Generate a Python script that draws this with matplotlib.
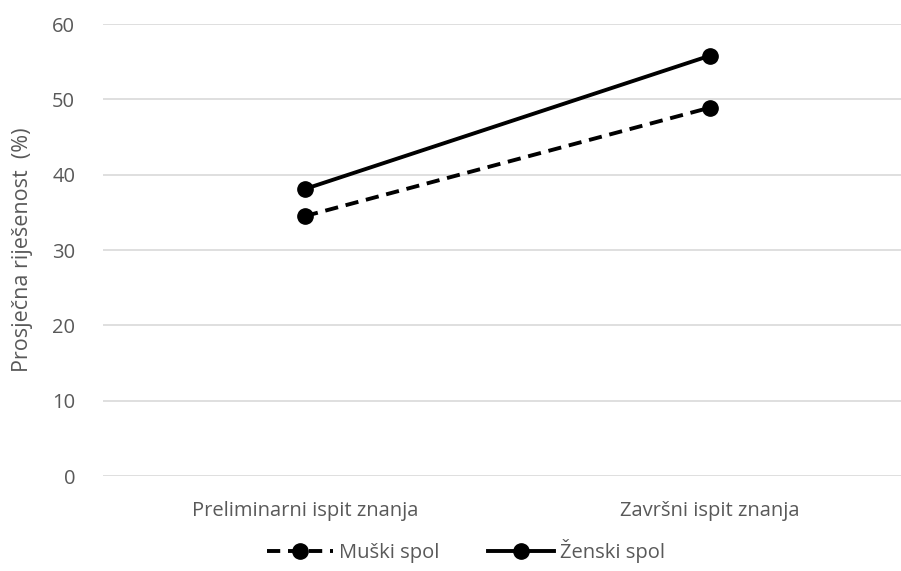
import matplotlib
matplotlib.use("Agg")
import matplotlib.pyplot as plt

categories = ["Preliminarni ispit znanja", "Završni ispit znanja"]
muski = [34.5, 48.9]
zenski = [38.1, 55.8]
series_names = ["Muški spol", "Ženski spol"]
yticks = [0, 10, 20, 30, 40, 50, 60]

plt.rcParams['font.family'] = ['Open Sans', 'DejaVu Sans']
txt = '#595959'

fig = plt.figure(figsize=(9.01, 5.71), dpi=100)
ax = fig.add_axes([103/901, 95/571, 1 - 103/901, (476-24)/571])

x = list(range(len(categories)))
ax.plot(x, muski, color='black', lw=2.8, linestyle=(0, (3.4, 2.0)), marker='o', ms=11,
        label=series_names[0], dash_capstyle='butt')
ax.plot(x, zenski, color='black', lw=2.8, linestyle='-', marker='o', ms=11,
        label=series_names[1])

ax.set_xlim(-0.4988, 1.4716)
ax.set_ylim(0, 60)
ax.set_yticks(yticks)
ax.set_xticks(x)
ax.set_xticklabels(categories)
ax.yaxis.grid(True, color='#d9d9d9', lw=1.2)
ax.set_axisbelow(True)
for s in ax.spines.values():
    s.set_visible(False)
ax.tick_params(axis='both', length=0, colors=txt, labelsize=14.5)
ax.tick_params(axis='y', pad=20)
ax.tick_params(axis='x', pad=18)
ax.set_ylabel("Prosječna riješenost  (%)", color=txt, fontsize=15.5, labelpad=14)

leg = fig.legend(loc='center', bbox_to_anchor=(466/901, 1 - 551/571), ncol=2, frameon=False,
                 fontsize=14.5, handlelength=3.3, columnspacing=2.4, handletextpad=0.3,
                 labelcolor=txt)

fig.savefig("out.png", dpi=100, facecolor='white')
